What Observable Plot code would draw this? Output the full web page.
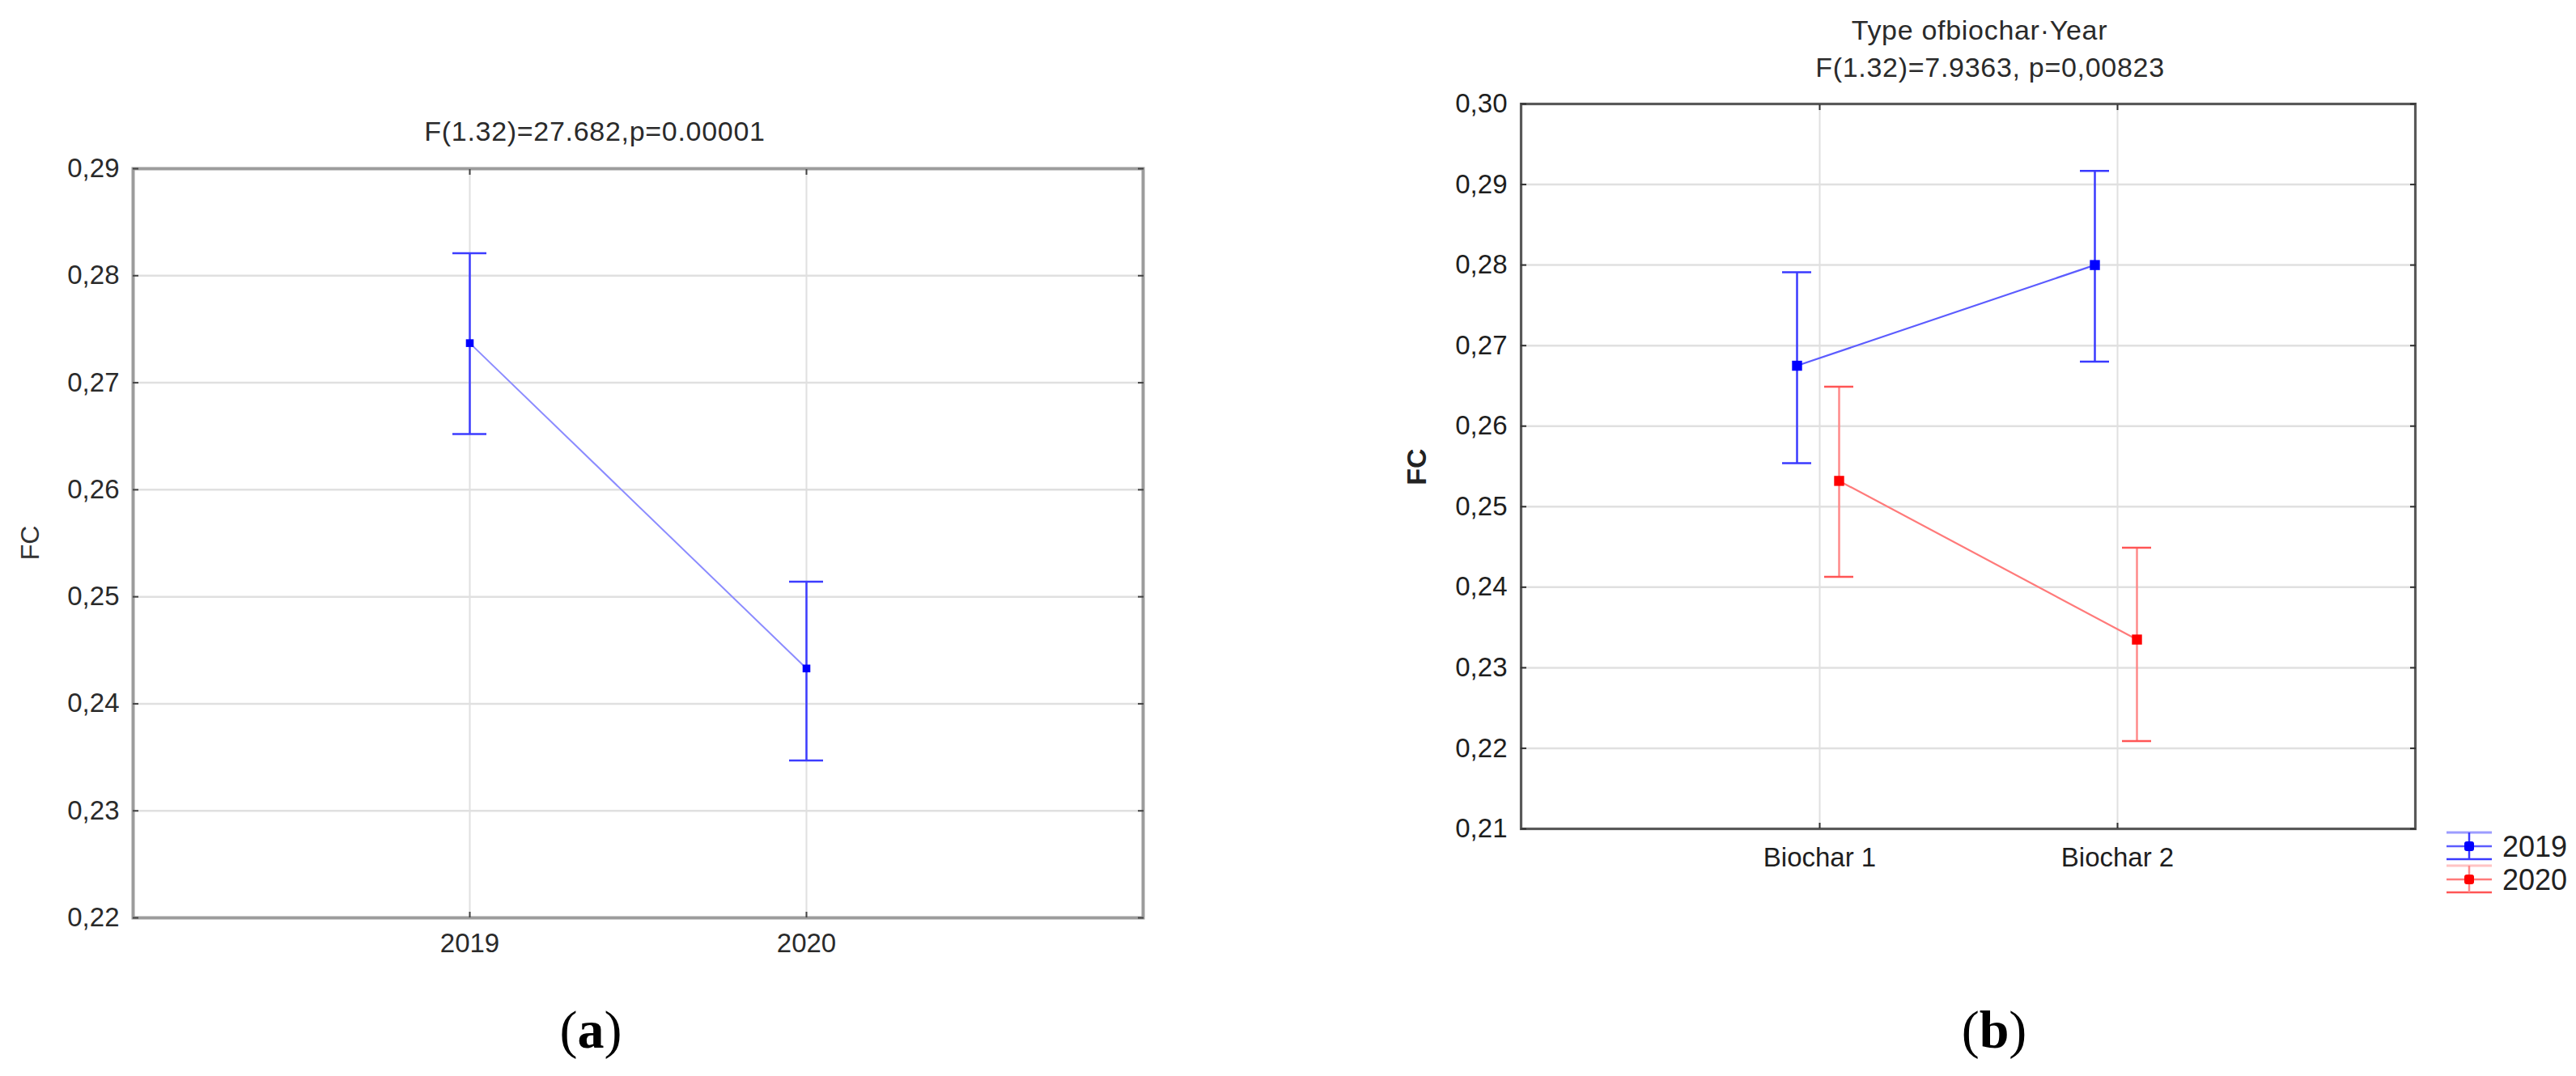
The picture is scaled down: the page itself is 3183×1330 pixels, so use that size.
<!DOCTYPE html>
<html><head><meta charset="utf-8">
<script src="https://cdn.jsdelivr.net/npm/d3@7"></script>
<script src="https://cdn.jsdelivr.net/npm/@observablehq/plot@0.6"></script>
<style>
html,body{margin:0;padding:0;background:#fff;}
#root{position:relative;width:3183px;height:1330px;overflow:hidden;font-family:"Liberation Sans",Arial,sans-serif;color:#222;}
.lbl{position:absolute;transform:translate(-50%,-50%);white-space:nowrap;line-height:1;}
.panel{position:absolute;top:0;}
.title{font-size:34px;letter-spacing:0.7px;color:#2a2a2a;}
.cap{font-family:"Liberation Serif","Times New Roman",serif;font-size:66px;color:#000;}
</style></head><body><div id="root"></div>
<script>
// ---- Panel (a) data ----
const yearsA = ["2019", "2020"];
const meanA = [0.2737, 0.2433];
const loA = [0.2652, 0.2347];
const hiA = [0.2821, 0.2514];
const ticksA = [0.22, 0.23, 0.24, 0.25, 0.26, 0.27, 0.28, 0.29];
const titleA = "F(1.32)=27.682,p=0.00001";

// ---- Panel (b) data ----
const biochars = ["Biochar 1", "Biochar 2"];
const seriesB = ["2019", "2020"];
const mean2019 = [0.2675, 0.2800];
const lo2019 = [0.2554, 0.2680];
const hi2019 = [0.2791, 0.2917];
const mean2020 = [0.2532, 0.2335];
const lo2020 = [0.2413, 0.2209];
const hi2020 = [0.2649, 0.2449];
const ticksB = [0.21, 0.22, 0.23, 0.24, 0.25, 0.26, 0.27, 0.28, 0.29, 0.30];
const titleB1 = "Type ofbiochar·Year";
const titleB2 = "F(1.32)=7.9363, p=0,00823";
const yLabel = "FC";

const fmt = d => d3.format(".2f")(d).replace(".", ",");
const blank = () => "";
const root = document.getElementById("root");

function addLabel(html, x, y, cls, extra) {
  const d = document.createElement("div");
  d.className = "lbl " + (cls || "");
  d.innerHTML = html;
  d.style.left = x + "px";
  d.style.top = y + "px";
  if (extra) Object.assign(d.style, extra);
  root.appendChild(d);
  return d;
}

const svgStyle = {fontSize: "33px", fontFamily: "'Liberation Sans', Arial, sans-serif", color: "#262626", background: "transparent", overflow: "visible"};

// error bar cap: horizontal rule at y spanning the category position, widened by negative insets
const cap = (data, xKey, yKey, stroke, half, dx) =>
  Plot.ruleY(data, {y: yKey, x1: xKey, x2: xKey, stroke, strokeWidth: 2.5, insetLeft: -half, insetRight: -half, dx});

// ---- Panel (a) ----
const dataA = yearsA.map((year, i) => ({year, mean: meanA[i], lo: loA[i], hi: hiA[i]}));
const blueBar = "#3c3cff";
const plotA = Plot.plot({
  width: 1560, height: 1330,
  marginLeft: 164, marginRight: 148, marginTop: 208, marginBottom: 196,
  style: svgStyle,
  x: {type: "point", domain: yearsA, padding: 1, label: null},
  y: {domain: [0.22, 0.29], label: null},
  marks: [
    Plot.gridY(ticksA, {stroke: "#e0e0e0", strokeOpacity: 1, strokeWidth: 2.5}),
    Plot.gridX(yearsA, {stroke: "#e0e0e0", strokeOpacity: 1, strokeWidth: 2}),
    Plot.frame({stroke: "#9c9c9c", strokeWidth: 4}),
    Plot.axisY(ticksA, {anchor: "left", tickSize: -7, tickPadding: 24, tickFormat: fmt, stroke: "#444", strokeWidth: 2, fill: "#2a2a2a", label: null}),
    Plot.axisY(ticksA, {anchor: "right", tickSize: -7, tickFormat: blank, stroke: "#444", strokeWidth: 2, label: null}),
    Plot.axisX(yearsA, {anchor: "bottom", tickSize: -7, tickPadding: 26, stroke: "#444", strokeWidth: 2, fill: "#2a2a2a", label: null}),
    Plot.axisX(yearsA, {anchor: "top", tickSize: -7, tickFormat: blank, stroke: "#444", strokeWidth: 2, label: null}),
    Plot.line(dataA, {x: "year", y: "mean", stroke: "#8c8cff", strokeWidth: 2}),
    Plot.ruleX(dataA, {x: "year", y1: "lo", y2: "hi", stroke: blueBar, strokeWidth: 2.5}),
    cap(dataA, "year", "lo", blueBar, 21, 0),
    cap(dataA, "year", "hi", blueBar, 21, 0),
    Plot.dot(dataA, {x: "year", y: "mean", symbol: "square", r: 5.4, fill: "#0000ff", stroke: null})
  ]
});
plotA.classList.add("panel");
plotA.style.left = "0px";
root.appendChild(plotA);

addLabel(titleA, 735, 162, "title");
addLabel(yLabel, 37, 671, "", {fontSize: "32px", color: "#333", transform: "translate(-50%,-50%) rotate(-90deg)"});
addLabel("(<b>a</b>)", 730, 1273, "cap");

// ---- Panel (b) ----
const makeSeries = (means, los, his) => biochars.map((b, i) => ({biochar: b, mean: means[i], lo: los[i], hi: his[i]}));
const d2019 = makeSeries(mean2019, lo2019, hi2019);
const d2020 = makeSeries(mean2020, lo2020, hi2020);
const colors = {"2019": {line: "#5c5cff", bar: "#3a3aff", pt: "#0000ff"}, "2020": {line: "#ff7a7a", bar: "#ff8a8a", cap: "#ff5555", pt: "#ff0000"}};

function seriesMarks(data, c, dx) {
  return [
    Plot.line(data, {x: "biochar", y: "mean", stroke: c.line, strokeWidth: 2.2, dx}),
    Plot.ruleX(data, {x: "biochar", y1: "lo", y2: "hi", stroke: c.bar, strokeWidth: 2.5, dx}),
    cap(data, "biochar", "lo", c.cap || c.bar, 18, dx),
    cap(data, "biochar", "hi", c.cap || c.bar, 18, dx),
    Plot.dot(data, {x: "biochar", y: "mean", symbol: "square", r: 7, fill: c.pt, stroke: null, dx})
  ];
}

const plotB = Plot.plot({
  width: 1533, height: 1330,
  marginLeft: 229, marginRight: 199, marginTop: 128, marginBottom: 306,
  style: svgStyle,
  x: {type: "point", domain: biochars, padding: 1, label: null},
  y: {domain: [0.21, 0.30], label: null},
  marks: [
    Plot.gridY(ticksB, {stroke: "#e0e0e0", strokeOpacity: 1, strokeWidth: 2.5}),
    Plot.gridX(biochars, {stroke: "#e0e0e0", strokeOpacity: 1, strokeWidth: 2}),
    Plot.frame({stroke: "#595959", strokeWidth: 3.2}),
    Plot.axisY(ticksB, {anchor: "left", tickSize: -7, tickPadding: 24, tickFormat: fmt, stroke: "#333", strokeWidth: 2, fill: "#1e1e1e", label: null}),
    Plot.axisY(ticksB, {anchor: "right", tickSize: -7, tickFormat: blank, stroke: "#333", strokeWidth: 2, label: null}),
    Plot.axisX(biochars, {anchor: "bottom", tickSize: -7, tickPadding: 30, stroke: "#333", strokeWidth: 2, fill: "#1e1e1e", label: null}),
    Plot.axisX(biochars, {anchor: "top", tickSize: -7, tickFormat: blank, stroke: "#333", strokeWidth: 2, label: null}),
    ...seriesMarks(d2019, colors["2019"], -28),
    ...seriesMarks(d2020, colors["2020"], 24)
  ]
});
plotB.classList.add("panel");
plotB.style.left = "1650px";
root.appendChild(plotB);

addLabel(titleB1, 2446, 37, "title");
addLabel(titleB2, 2459, 83, "title");
addLabel(yLabel, 1750, 577, "", {fontSize: "34px", fontWeight: "bold", color: "#222", transform: "translate(-50%,-50%) rotate(-90deg)"});
addLabel("(<b>b</b>)", 2464, 1273, "cap");

// ---- Legend for panel (b) ----
const leg = d3.create("svg").attr("width", 173).attr("height", 110)
  .style("position", "absolute").style("left", "3010px").style("top", "1010px").style("overflow", "visible");
seriesB.forEach((s, i) => {
  const c = colors[s];
  const cy = 36 + i * 41;
  const g = leg.append("g");
  g.append("line").attr("x1", 13).attr("x2", 69).attr("y1", cy - 17).attr("y2", cy - 17).attr("stroke", c.bar).attr("stroke-opacity", 0.5).attr("stroke-width", 3);
  g.append("line").attr("x1", 13).attr("x2", 69).attr("y1", cy).attr("y2", cy).attr("stroke", c.line).attr("stroke-width", 2.5);
  g.append("line").attr("x1", 13).attr("x2", 69).attr("y1", cy + 16).attr("y2", cy + 16).attr("stroke", c.cap || c.bar).attr("stroke-width", 2.5);
  g.append("line").attr("x1", 41).attr("x2", 41).attr("y1", cy - 17).attr("y2", cy + 16).attr("stroke", c.bar).attr("stroke-width", 2.5);
  g.append("rect").attr("x", 35).attr("y", cy - 6).attr("width", 12).attr("height", 12).attr("rx", 3).attr("fill", c.pt);
  g.append("text").attr("x", 82).attr("y", cy).attr("dy", "0.35em").attr("font-size", 36).attr("fill", "#222")
    .attr("font-family", "'Liberation Sans', Arial, sans-serif").text(s);
});
root.appendChild(leg.node());
</script></body></html>
